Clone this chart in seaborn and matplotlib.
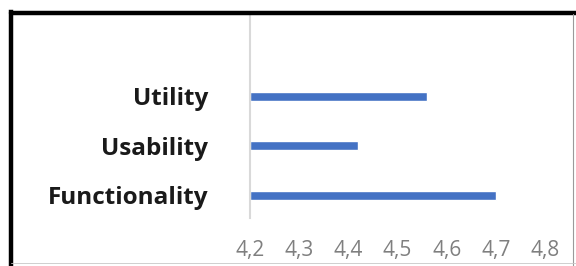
import matplotlib
matplotlib.use("Agg")
import matplotlib.pyplot as plt
import seaborn as sns
import pandas as pd
from matplotlib.lines import Line2D

categories = ["Utility", "Usability", "Functionality"]
scores = [4.56, 4.42, 4.70]
x_ticks = [4.2, 4.3, 4.4, 4.5, 4.6, 4.7, 4.8]
x_tick_labels = ["4,2", "4,3", "4,4", "4,5", "4,6", "4,7", "4,8"]

df = pd.DataFrame({"category": categories, "score": scores})

sns.set_style("white")
plt.rcParams["font.family"] = ["Open Sans", "DejaVu Sans"]

W, H = 576, 266
fig = plt.figure(figsize=(W / 100, H / 100), dpi=100)
ax = fig.add_axes([250 / W, 1 - 218 / H, (545 - 250) / W, (218 - 15) / H])

sns.barplot(data=df, x="score", y="category", color="#4472C4", width=0.18,
            saturation=1, ax=ax)

# bars start at 4.2 instead of 0
for p in ax.patches:
    p.set_x(4.2)
    p.set_width(p.get_width() - 4.2)

ax.set_xlim(4.2, 4.8)
# category spacing ~49.5 px, top of plot area cut off by frame
ax.set_ylim(2.46, -1.64)
ax.set_xticks(x_ticks)
ax.set_xticklabels(x_tick_labels)
ax.set_xlabel("")
ax.set_ylabel("")

for side in ["top", "right", "bottom"]:
    ax.spines[side].set_visible(False)
ax.spines["left"].set_color("#D9D9D9")
ax.spines["left"].set_linewidth(1.5)

ax.tick_params(axis="x", length=0, pad=16, labelsize=15, labelcolor="#7F7F7F")
ax.tick_params(axis="y", length=0, pad=30, labelsize=17.5)
for lbl in ax.get_yticklabels():
    lbl.set_fontweight("bold")
    lbl.set_color("#1A1A1A")

# picture frame
fig.add_artist(Line2D([11 / W, 11 / W], [0, 1 - 12 / H], transform=fig.transFigure,
                      color="black", linewidth=3.2, solid_capstyle="projecting"))
fig.add_artist(Line2D([11 / W, 1], [1 - 12.5 / H, 1 - 12.5 / H], transform=fig.transFigure,
                      color="black", linewidth=3.2))
fig.add_artist(Line2D([573 / W, 573 / W], [0, 1 - 14 / H], transform=fig.transFigure,
                      color="#9A9A9A", linewidth=0.8))
fig.add_artist(Line2D([11 / W, 1], [3 / H, 3 / H], transform=fig.transFigure,
                      color="#C8C8C8", linewidth=0.6))

fig.savefig("out.png", dpi=100, facecolor="white")
